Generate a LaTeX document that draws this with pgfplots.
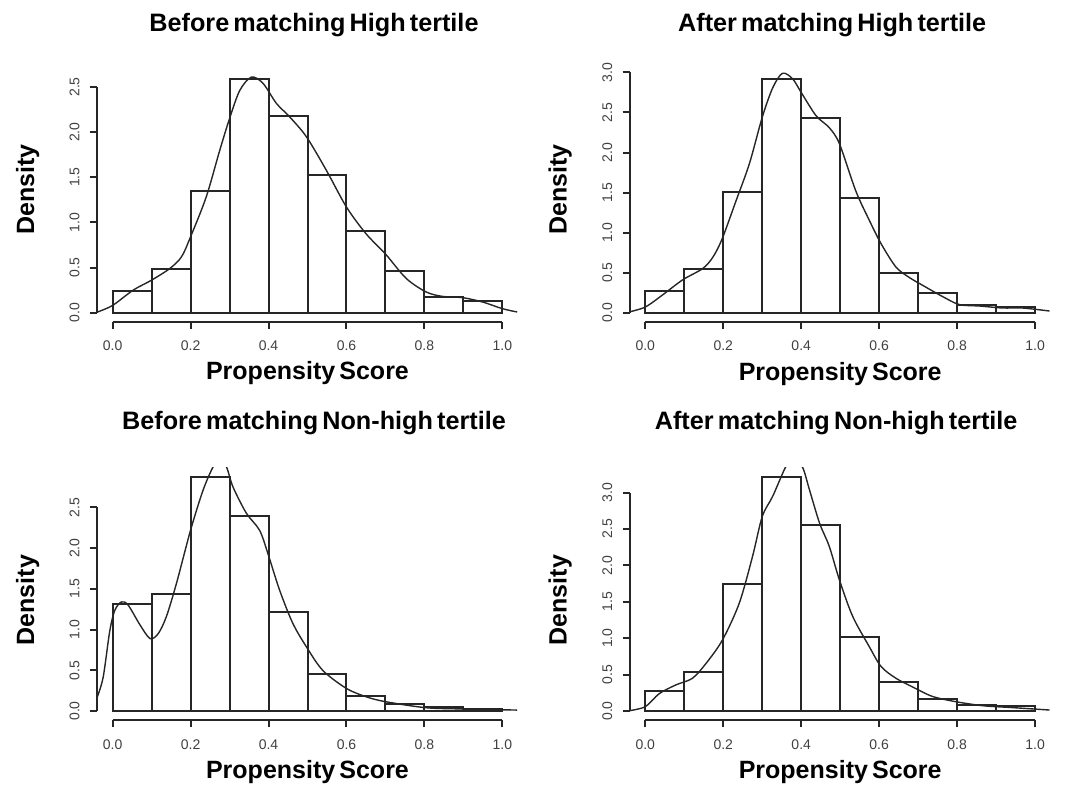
\documentclass[border=0pt]{standalone}
\usepackage{fontspec}
\setmainfont{Liberation Sans}[WordSpace=0.6]
\usepackage{pgfplots}
\pgfplotsset{compat=1.18}

\tikzset{axl/.style={black!85, line width=1pt}}
\pgfplotsset{
  psplot/.style={
    scale only axis, width=210.5pt, height=126.25pt,
    xmin=-0.04, xmax=1.04,
    clip mode=individual,
    axis line style={draw=none},
    tick pos=left, tick align=outside,
    major tick length=3.5pt,
    every tick/.style={black!85, line width=1pt},
    xtick={0,0.2,0.4,0.6,0.8,1},
    xticklabels={0.0,0.2,0.4,0.6,0.8,1.0},
    ticklabel style={font=\fontsize{7}{8}\selectfont, text=black!75, inner sep=0pt},
    xticklabel style={anchor=north},
    yticklabel style={rotate=90, anchor=south},
    xticklabel shift=5.75pt, yticklabel shift=5pt,
    title style={font=\bfseries\fontsize{12.6}{14}\selectfont,
      at={(axis description cs:0.5,1.103)}, anchor=base},
    xlabel style={font=\bfseries\fontsize{12.5}{14}\selectfont,
      at={(axis description cs:0.5,-0.2297)}, anchor=base},
    xlabel={Propensity Score}, ylabel={Density},
  },
  ylab/.style={ylabel style={font=\bfseries\fontsize{12.5}{14}\selectfont,
      at={(axis description cs:-0.1496,#1)}, anchor=base}},
  hbar/.style={ybar interval, fill=white, draw=black!85, line width=1pt},
  dens/.style={smooth, black!85, line width=0.7pt, mark=none},
}

\begin{document}
\begin{tikzpicture}
\path[use as bounding box] (0,0) rectangle (536pt,397pt);

% before matching, high tertile
\begin{axis}[psplot, ylab=0.524, at={(48.5pt,236pt)}, anchor=south west,
  ymin=-0.1036, ymax=2.694,
  ytick={0,0.5,1,1.5,2,2.5}, yticklabels={0.0,0.5,1.0,1.5,2.0,2.5},
  title={Before matching High tertile}, title style={xshift=3.25pt}]
\addplot[hbar] coordinates {(0,0.24) (0.1,0.487) (0.2,1.344) (0.3,2.59) (0.4,2.18)
  (0.5,1.52) (0.6,0.90) (0.7,0.46) (0.8,0.177) (0.9,0.133) (1.0,0.133)};
\addplot[dens] coordinates {(-0.039,0.007) (0,0.08) (0.053,0.25) (0.1,0.36) (0.147,0.49)
  (0.177,0.62) (0.2,0.84) (0.24,1.28) (0.275,1.80) (0.30,2.15) (0.326,2.46) (0.356,2.61)
  (0.386,2.54) (0.42,2.32) (0.454,2.17) (0.497,1.95) (0.548,1.58) (0.60,1.17) (0.65,0.875)
  (0.70,0.65) (0.753,0.38) (0.804,0.23) (0.846,0.18) (0.898,0.166) (0.949,0.118)
  (1.0,0.044) (1.038,0.007)};
\draw[axl] (axis cs:0,-0.1036) -- (axis cs:1,-0.1036);
\draw[axl] (axis cs:-0.04,0) -- (axis cs:-0.04,2.5);
\end{axis}

% after matching, high tertile
\begin{axis}[psplot, ylab=0.524, at={(314.85pt,236pt)}, anchor=south west,
  ymin=-0.1168, ymax=3.037,
  ytick={0,0.5,1,1.5,2,2.5,3}, yticklabels={0.0,0.5,1.0,1.5,2.0,2.5,3.0},
  title={After matching High tertile}, title style={xshift=-4pt}]
\addplot[hbar] coordinates {(0,0.27) (0.1,0.548) (0.2,1.51) (0.3,2.92) (0.4,2.43)
  (0.5,1.43) (0.6,0.50) (0.7,0.25) (0.8,0.10) (0.9,0.07) (1.0,0.07)};
\addplot[dens] coordinates {(-0.041,0.01) (0,0.07) (0.044,0.22) (0.096,0.41) (0.147,0.55)
  (0.173,0.69) (0.197,0.92) (0.233,1.40) (0.267,1.86) (0.30,2.44) (0.327,2.81) (0.352,2.99)
  (0.378,2.92) (0.40,2.75) (0.438,2.46) (0.472,2.31) (0.498,2.11) (0.54,1.52) (0.575,1.15)
  (0.605,0.86) (0.643,0.57) (0.677,0.44) (0.712,0.34) (0.763,0.20) (0.806,0.10)
  (0.857,0.083) (0.917,0.058) (0.968,0.058) (1.037,0.02)};
\draw[axl] (axis cs:0,-0.1168) -- (axis cs:1,-0.1168);
\draw[axl] (axis cs:-0.04,0) -- (axis cs:-0.04,3);
\end{axis}

% before matching, non-high tertile
\begin{axis}[psplot, ylab=0.476, at={(48.5pt,36.8pt)}, anchor=south west,
  ymin=-0.1148, ymax=2.985,
  ytick={0,0.5,1,1.5,2,2.5}, yticklabels={0.0,0.5,1.0,1.5,2.0,2.5},
  title={Before matching Non-high tertile}, title style={xshift=3.25pt}]
\addplot[hbar] coordinates {(0,1.32) (0.1,1.436) (0.2,2.87) (0.3,2.39) (0.4,1.22)
  (0.5,0.458) (0.6,0.184) (0.7,0.082) (0.8,0.045) (0.9,0.03) (1.0,0.03)};
\addplot[dens] coordinates {(-0.039,0.176) (-0.024,0.42) (-0.007,0.99) (0.006,1.24)
  (0.023,1.34) (0.04,1.30) (0.07,1.06) (0.096,0.89) (0.117,0.95) (0.138,1.16) (0.164,1.57)
  (0.2,2.22) (0.232,2.71) (0.258,3.0) (0.275,3.1) (0.292,3.0) (0.309,2.75) (0.343,2.43)
  (0.377,2.22) (0.398,1.94) (0.428,1.49) (0.462,1.08) (0.497,0.79) (0.539,0.50)
  (0.599,0.28) (0.65,0.176) (0.70,0.115) (0.804,0.041) (0.906,0.025) (1.038,0.012)};
\draw[axl] (axis cs:0,-0.1148) -- (axis cs:1,-0.1148);
\draw[axl] (axis cs:-0.04,0) -- (axis cs:-0.04,2.5);
\end{axis}

% after matching, non-high tertile
\begin{axis}[psplot, ylab=0.476, at={(314.85pt,36.8pt)}, anchor=south west,
  ymin=-0.1284, ymax=3.338,
  ytick={0,0.5,1,1.5,2,2.5,3}, yticklabels={0.0,0.5,1.0,1.5,2.0,2.5,3.0},
  title={After matching Non-high tertile}, title style={xshift=-2pt}]
\addplot[hbar] coordinates {(0,0.28) (0.1,0.536) (0.2,1.74) (0.3,3.21) (0.4,2.556)
  (0.5,1.02) (0.6,0.40) (0.7,0.17) (0.8,0.078) (0.9,0.064) (1.0,0.064)};
\addplot[dens] coordinates {(-0.041,0.005) (0,0.06) (0.036,0.24) (0.079,0.36) (0.121,0.45)
  (0.156,0.655) (0.198,0.976) (0.241,1.48) (0.275,2.12) (0.30,2.67) (0.327,2.95)
  (0.359,3.34) (0.38,3.5) (0.404,3.34) (0.421,3.04) (0.447,2.58) (0.472,2.26) (0.498,1.80)
  (0.532,1.30) (0.575,0.88) (0.605,0.61) (0.643,0.45) (0.686,0.33) (0.737,0.20)
  (0.797,0.128) (0.866,0.073) (0.934,0.05) (1.037,0.014)};
\draw[axl] (axis cs:0,-0.1284) -- (axis cs:1,-0.1284);
\draw[axl] (axis cs:-0.04,0) -- (axis cs:-0.04,3);
\end{axis}
\end{tikzpicture}
\end{document}
